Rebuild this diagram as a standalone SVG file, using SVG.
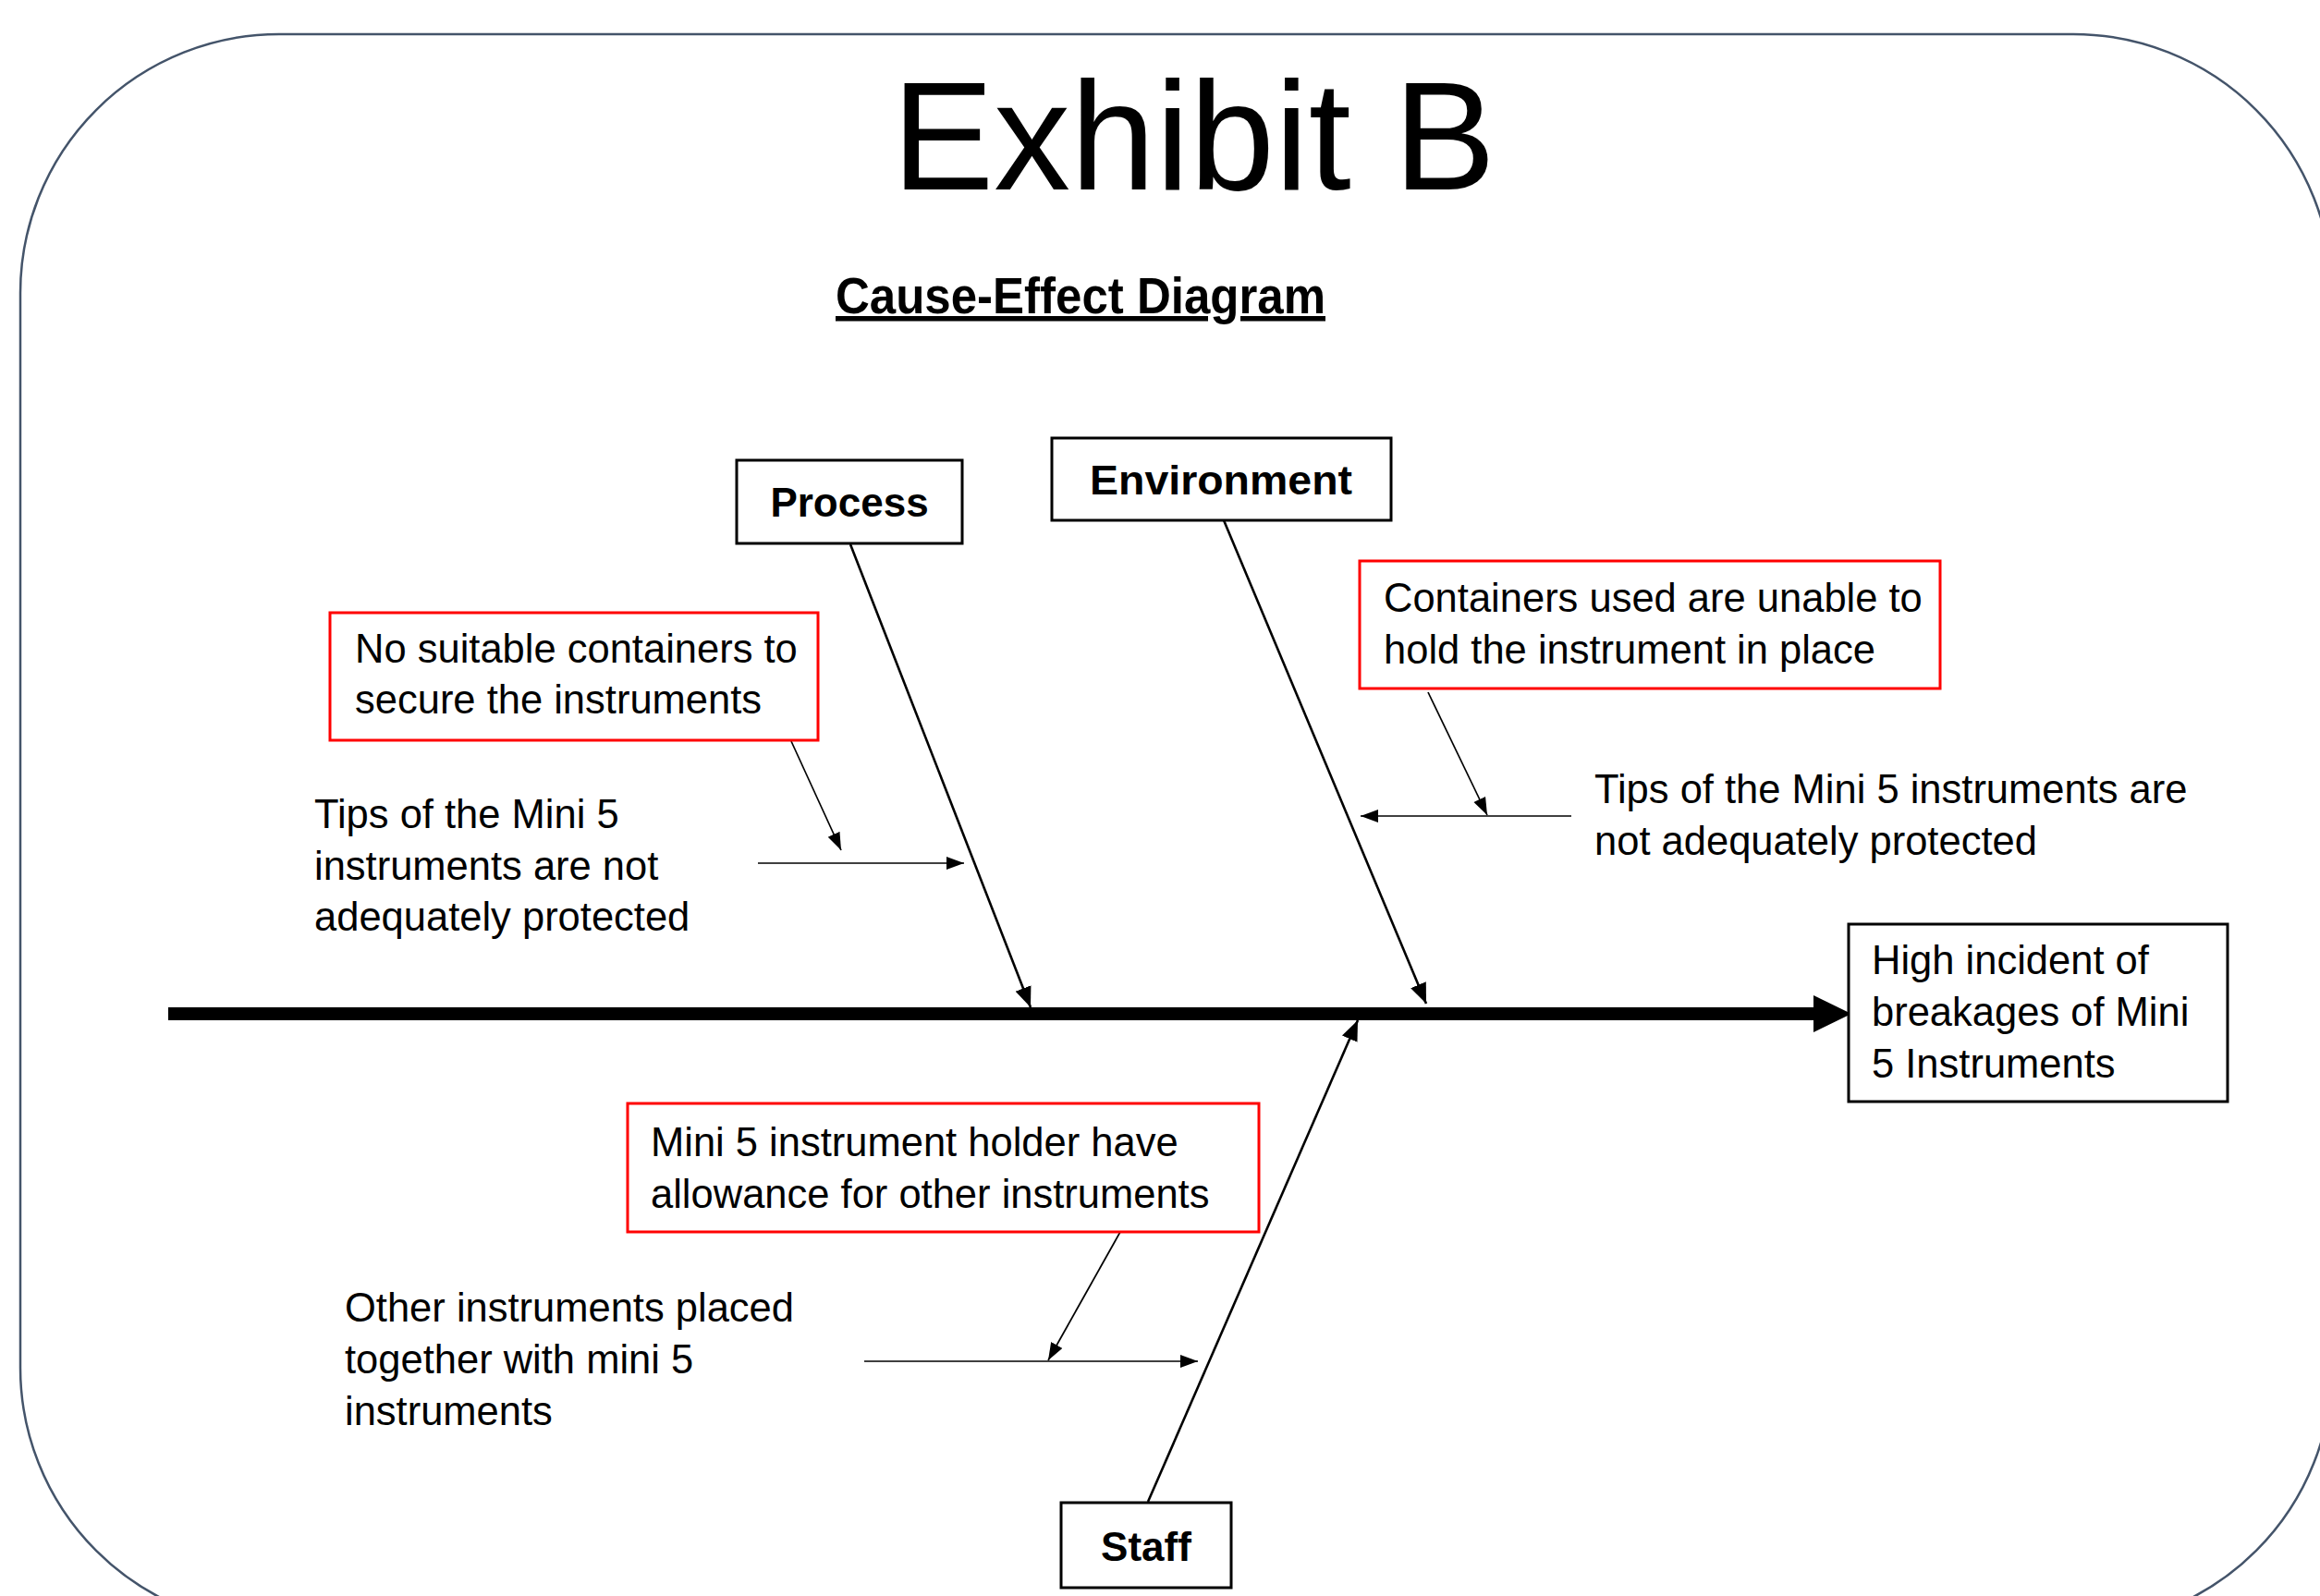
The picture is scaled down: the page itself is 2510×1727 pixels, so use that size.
<svg xmlns="http://www.w3.org/2000/svg" width="2510" height="1727" viewBox="0 0 2510 1727">
<style>
text{font-family:"Liberation Sans",Arial,sans-serif;fill:#000}
.body{font-size:43.5px}
.cat{font-size:44px;font-weight:bold;text-anchor:middle}
.cbox{fill:#fff;stroke:#000;stroke-width:3}
.rbox{fill:#fff;stroke:#FF0000;stroke-width:3}
.branch{stroke:#000;stroke-width:2.6;fill:none;marker-end:url(#ah)}
.sub{stroke:#000;stroke-width:1.7;fill:none;marker-end:url(#ahs)}
</style>
<defs>
<marker id="ah" markerUnits="userSpaceOnUse" markerWidth="24" markerHeight="20" refX="22" refY="9" orient="auto"><path d="M0,0 L22,9 L0,18 Z" fill="#000"/></marker>
<marker id="ahs" markerUnits="userSpaceOnUse" markerWidth="20" markerHeight="16" refX="19" refY="7" orient="auto"><path d="M0,0 L19,7 L0,14 Z" fill="#000"/></marker>
</defs>
<rect x="0" y="0" width="2510" height="1727" fill="#fff"/>
<rect id="frame" x="22" y="37" width="2501" height="1723" rx="280" ry="280" fill="none" stroke="#44546A" stroke-width="2.5"/>

<g id="title"><text x="965" y="205" font-size="167" textLength="653" lengthAdjust="spacingAndGlyphs">Exhibit B</text></g>
<g id="subtitle"><text x="904" y="339" font-size="55" font-weight="bold" textLength="530" lengthAdjust="spacingAndGlyphs" text-decoration="underline">Cause-Effect Diagram</text></g>

<g id="connectors">
<line x1="182" y1="1097" x2="1965" y2="1097" stroke="#000" stroke-width="14"/>
<polygon points="1962,1077 2003,1097 1962,1117" fill="#000"/>
<path class="branch" d="M920,589 L1115,1090"/>
<path class="branch" d="M1324,563 L1543,1086"/>
<path class="branch" d="M1242,1625 L1469,1104"/>
<path class="sub" d="M820,934 L1043,934"/>
<path class="sub" d="M856,802 L910,920"/>
<path class="sub" d="M1700,883 L1472,883"/>
<path class="sub" d="M1545,749 L1609,882"/>
<path class="sub" d="M935,1473 L1296,1473"/>
<path class="sub" d="M1212,1333 L1134,1472"/>
</g>

<g id="process"><rect class="cbox" x="797" y="498" width="244" height="90"/><text class="cat" x="919" y="559">Process</text></g>
<g id="environment"><rect class="cbox" x="1138" y="474" width="367" height="89"/><text class="cat" x="1321" y="535" font-size="45" textLength="284" lengthAdjust="spacingAndGlyphs">Environment</text></g>
<g id="staff"><rect class="cbox" x="1148" y="1626" width="184" height="92"/><text class="cat" x="1240" y="1689" font-size="46">Staff</text></g>

<g id="effect"><rect class="cbox" x="2000" y="1000" width="410" height="192"/>
<text class="body" x="2025" y="1054">High incident of</text>
<text class="body" x="2025" y="1110">breakages of Mini</text>
<text class="body" x="2025" y="1166">5 Instruments</text></g>

<g id="cause-containers"><rect class="rbox" x="357" y="663" width="528" height="138"/>
<text class="body" x="384" y="717">No suitable containers to</text>
<text class="body" x="384" y="772">secure  the instruments</text></g>

<g id="cause-tips-left">
<text class="body" x="340" y="896">Tips of the Mini 5</text>
<text class="body" x="340" y="952">instruments are not</text>
<text class="body" x="340" y="1007">adequately protected</text></g>

<g id="cause-hold"><rect class="rbox" x="1471" y="607" width="628" height="138"/>
<text class="body" x="1497" y="662">Containers used are unable to</text>
<text class="body" x="1497" y="718">hold the instrument in place</text></g>

<g id="cause-tips-right">
<text class="body" x="1725" y="869">Tips of the Mini 5 instruments are</text>
<text class="body" x="1725" y="925">not adequately protected</text></g>

<g id="cause-holder"><rect class="rbox" x="679" y="1194" width="683" height="139"/>
<text class="body" x="704" y="1251">Mini 5 instrument holder have</text>
<text class="body" x="704" y="1307">allowance for other instruments</text></g>

<g id="cause-other">
<text class="body" x="373" y="1430">Other instruments placed</text>
<text class="body" x="373" y="1486">together with mini 5</text>
<text class="body" x="373" y="1542">instruments</text></g>
</svg>
